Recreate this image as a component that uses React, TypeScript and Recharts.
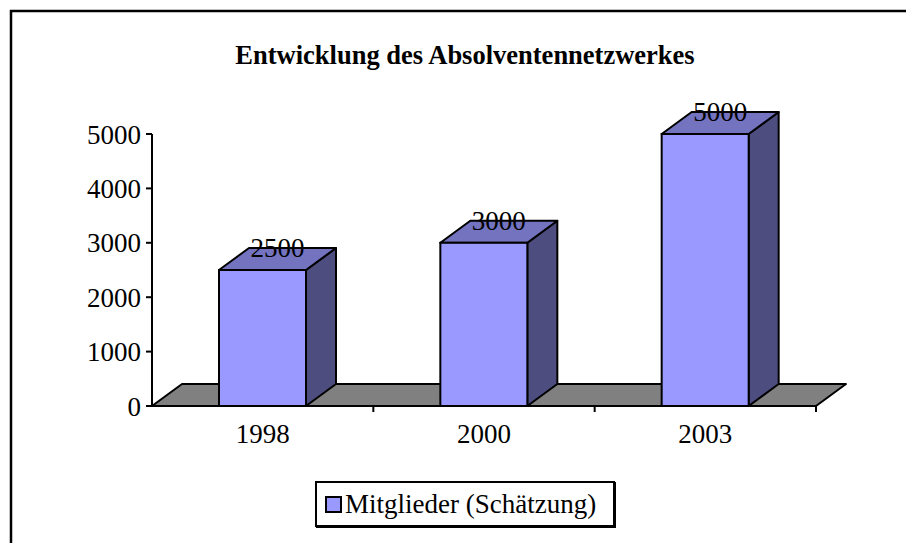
import React from 'react';
import { BarChart, Bar, XAxis, YAxis, LabelList, Legend, ReferenceArea } from 'recharts';

const categories = ['1998', '2000', '2003'];
const members = [2500, 3000, 5000];
const yTicks = [0, 1000, 2000, 3000, 4000, 5000];
const seriesName = 'Mitglieder (Schätzung)';
const chartTitle = 'Entwicklung des Absolventennetzwerkes';

const data = categories.map((c, i) => ({ year: c, value: members[i] }));

const DX = 30;
const DY = 22;
const FONT = '"Liberation Serif", "Times New Roman", serif';
const FRONT = '#9999FF';
const TOP = '#7373C0';
const SIDE = '#4D4D80';
const FLOOR = '#808080';

const Bar3D = (props: any) => {
  const { x, y, width, height } = props;
  if (width == null || height == null) return null;
  const top = `${x},${y} ${x + DX},${y - DY} ${x + width + DX},${y - DY} ${x + width},${y}`;
  const side = `${x + width},${y} ${x + width + DX},${y - DY} ${x + width + DX},${y + height - DY} ${x + width},${y + height}`;
  return (
    <g>
      <polygon points={side} fill={SIDE} stroke="#000" strokeWidth={2} strokeLinejoin="round" />
      <polygon points={top} fill={TOP} stroke="#000" strokeWidth={2} strokeLinejoin="round" />
      <rect x={x} y={y} width={width} height={height} fill={FRONT} stroke="#000" strokeWidth={2} />
    </g>
  );
};

const Floor = (props: any) => {
  const { x, y, width, height } = props;
  if ([x, y, width, height].some((v) => typeof v !== 'number' || isNaN(v))) return null;
  const by = y + height;
  const pts = `${x},${by} ${x + width},${by} ${x + width + DX},${by - DY} ${x + DX},${by - DY}`;
  const n = categories.length;
  return (
    <g>
      <polygon points={pts} fill={FLOOR} stroke="#000" strokeWidth={2} strokeLinejoin="round" />
      {categories.map((_, i) => {
        const tx = x + ((i + 1) * width) / n;
        return <line key={i} x1={tx} y1={by} x2={tx} y2={by + 6} stroke="#000" strokeWidth={2} />;
      })}
    </g>
  );
};

const ValueLabel = (props: any) => {
  const { x, y, width, value } = props;
  return (
    <text
      x={x + width / 2 + DX / 2}
      y={y - 13}
      textAnchor="middle"
      fontFamily={FONT}
      fontSize={27}
      fill="#000"
    >
      {value}
    </text>
  );
};

const LegendBox = () => (
  <div
    style={{
      boxSizing: 'border-box',
      width: 300,
      height: 46,
      border: '2px solid #000',
      boxShadow: '1px 1px 0 #000',
      background: '#fff',
      display: 'flex',
      alignItems: 'center',
      paddingLeft: 8,
      fontFamily: FONT,
      fontSize: 27,
      color: '#000',
      whiteSpace: 'nowrap',
    }}
  >
    <span
      style={{
        display: 'inline-block',
        boxSizing: 'border-box',
        width: 17,
        height: 17,
        background: FRONT,
        border: '2px solid #000',
        marginRight: 3,
      }}
    />
    <span>{seriesName}</span>
  </div>
);

export default function App() {
  return (
    <div style={{ position: 'absolute', left: 0, top: 0, width: 906, height: 543, overflow: 'hidden', background: '#fff' }}>
      <svg width={906} height={543} style={{ position: 'absolute', left: 0, top: 0 }}>
        <rect x={11} y={11} width={1000} height={1000} fill="none" stroke="#000" strokeWidth={2.5} />
        <text x={465} y={64} textAnchor="middle" fontFamily={FONT} fontWeight="bold" fontSize={26.5} fill="#000">
          {chartTitle}
        </text>
      </svg>
      <div style={{ position: 'absolute', left: 0, top: 0 }}>
        <BarChart width={906} height={543} data={data} margin={{ top: 134, right: 90, bottom: 97, left: 72 }}>
          <ReferenceArea
            y1={0}
            y2={yTicks[yTicks.length - 1]}
            ifOverflow="visible"
            shape={Floor}
          />
          <XAxis
            dataKey="year"
            axisLine={false}
            tickLine={false}
            tickSize={8}
            tickMargin={10}
            height={40}
            tick={{ fontFamily: FONT, fontSize: 27, fill: '#000' }}
          />
          <YAxis
            domain={[0, 5000]}
            ticks={yTicks}
            width={80}
            axisLine={{ stroke: '#000', strokeWidth: 2 }}
            tickLine={{ stroke: '#000', strokeWidth: 2 }}
            tickSize={6}
            tickMargin={5}
            tick={{ fontFamily: FONT, fontSize: 27, fill: '#000' }}
          />
          <Legend
            layout="horizontal"
            verticalAlign="middle"
            align="center"
            wrapperStyle={{ left: 315, top: 481, width: 300, height: 46 }}
            content={() => <LegendBox />}
          />
          <Bar dataKey="value" name={seriesName} barSize={87} shape={Bar3D} isAnimationActive={false}>
            <LabelList dataKey="value" content={ValueLabel} />
          </Bar>
        </BarChart>
      </div>
    </div>
  );
}
